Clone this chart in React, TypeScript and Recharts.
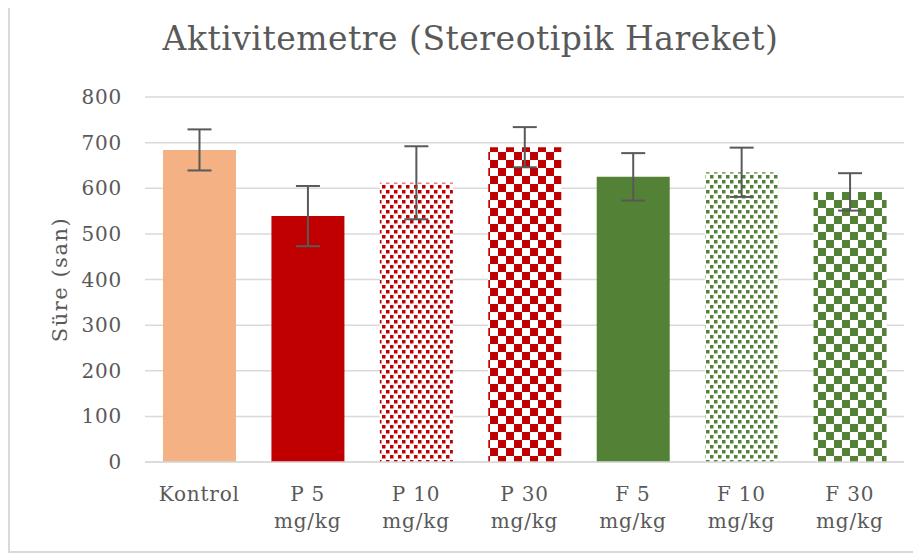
import { BarChart, Bar, XAxis, YAxis, CartesianGrid, ErrorBar, Cell } from 'recharts';

const CATEGORIES = ['Kontrol', 'P 5|mg/kg', 'P 10|mg/kg', 'P 30|mg/kg', 'F 5|mg/kg', 'F 10|mg/kg', 'F 30|mg/kg'];
const MEANS = [684, 539, 612, 690, 625, 635, 592];
const ERRORS = [45, 66, 80, 44, 52, 54, 41];
const FILLS = [
  '#F4B183',
  '#C00000',
  'url(#dotRed)',
  'url(#checkRed)',
  '#538135',
  'url(#dotGreen)',
  'url(#checkGreen)',
];
const Y_TICKS = [0, 100, 200, 300, 400, 500, 600, 700, 800];

const FONT = '"DejaVu Serif", serif';
const GREY = '#595959';

const data = CATEGORIES.map((name, i) => ({ name, value: MEANS[i], err: ERRORS[i] }));

const XTick = ({ x, y, payload }: any) => {
  const lines = String(payload.value).split('|');
  return (
    <text x={x} y={y} textAnchor="middle" fill={GREY} fontSize={20} letterSpacing={0.8} fontFamily={FONT}>
      {lines.map((l, i) => (
        <tspan key={i} x={x} dy={i === 0 ? 31 : 27}>
          {l}
        </tspan>
      ))}
    </text>
  );
};

// rotated axis title, drawn by hand so the font size sticks
const YTitle = ({ viewBox }: any) => {
  const cx = viewBox.x + 50;
  const cy = viewBox.y + viewBox.height / 2;
  return (
    <text
      x={cx}
      y={cy}
      transform={`rotate(-90, ${cx}, ${cy})`}
      textAnchor="middle"
      dominantBaseline="central"
      fill={GREY}
      fontSize={21}
      letterSpacing={1.5}
      fontFamily={FONT}
    >
      Süre (san)
    </text>
  );
};

// checker / dotted fills like the office pattern fills
const Checker = ({ id, color }: { id: string; color: string }) => (
  <pattern id={id} width={16} height={16} patternUnits="userSpaceOnUse">
    <rect width={16} height={16} fill="#fff" />
    <rect x={0} y={0} width={8} height={8} fill={color} />
    <rect x={8} y={8} width={8} height={8} fill={color} />
  </pattern>
);

const Dots = ({ id, color }: { id: string; color: string }) => (
  <pattern id={id} width={8} height={10} patternUnits="userSpaceOnUse">
    <rect width={8} height={10} fill="#fff" />
    <rect x={0} y={0} width={3.5} height={3.5} fill={color} />
    <rect x={4} y={5} width={3.5} height={3.5} fill={color} />
  </pattern>
);

export default function App() {
  return (
    <div
      style={{
        position: 'relative',
        width: 913,
        height: 553,
        marginTop: -8,
        borderLeft: '2px solid #d9d9d9',
        borderBottom: '2px solid #d9d9d9',
        boxSizing: 'border-box',
        background: '#fff',
      }}
    >
      <div
        style={{
          position: 'absolute',
          left: 0,
          right: 0,
          top: 19,
          textAlign: 'center',
          fontFamily: FONT,
          fontSize: 33,
          letterSpacing: 0.5,
          color: GREY,
          paddingLeft: 10,
        }}
      >
        Aktivitemetre (Stereotipik Hareket)
      </div>
      <BarChart
        width={911}
        height={551}
        data={data}
        margin={{ top: 97, right: 17, bottom: 29, left: 0 }}
        barSize={73}
      >
        <defs>
          <Checker id="checkRed" color="#C00000" />
          <Checker id="checkGreen" color="#538135" />
          <Dots id="dotRed" color="#C00000" />
          <Dots id="dotGreen" color="#538135" />
        </defs>
        <CartesianGrid vertical={false} stroke="#d9d9d9" strokeWidth={1.5} />
        <XAxis
          dataKey="name"
          height={60}
          tick={<XTick />}
          tickLine={false}
          axisLine={{ stroke: '#d9d9d9', strokeWidth: 1.5 }}
          interval={0}
        />
        <YAxis
          width={135}
          domain={[0, 800]}
          ticks={Y_TICKS}
          tickLine={false}
          axisLine={false}
          tickMargin={17}
          tick={{ fill: GREY, fontSize: 20, fontFamily: FONT, letterSpacing: 0.8 }}
          label={<YTitle />}
        />
        <Bar dataKey="value" isAnimationActive={false}>
          {data.map((_, i) => (
            <Cell key={i} fill={FILLS[i]} />
          ))}
          <ErrorBar dataKey="err" width={12} stroke={GREY} strokeWidth={2} direction="y" />
        </Bar>
      </BarChart>
    </div>
  );
}
